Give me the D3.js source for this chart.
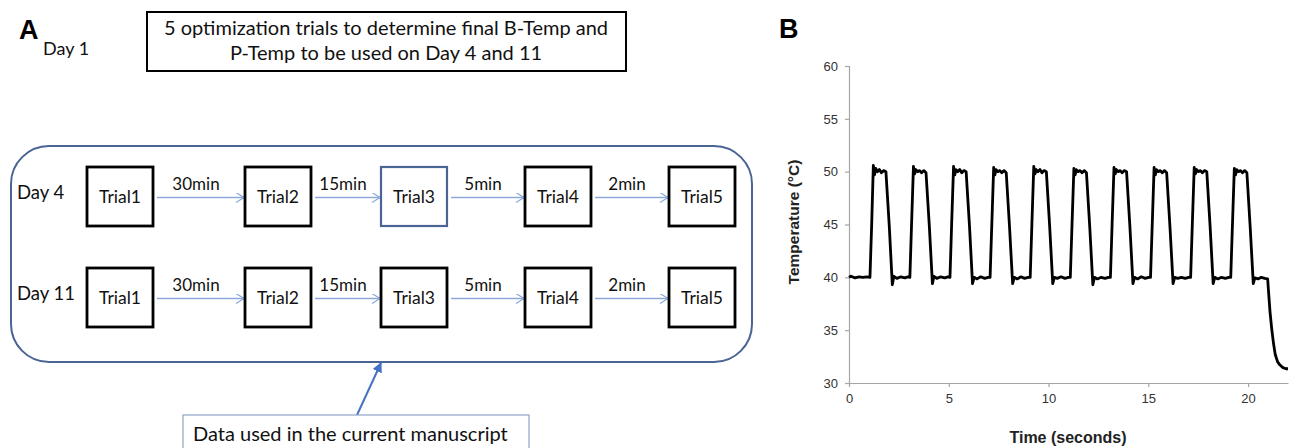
<!DOCTYPE html>
<html>
<head>
<meta charset="utf-8">
<script src="https://cdn.jsdelivr.net/npm/d3@7"></script>
<style>
  body { margin: 0; background: #fff; }
  svg { display: block; }
</style>
</head>
<body>
<div id="chart"></div>
<script>
// ---- data ----
var dayLabels = ["Day 4", "Day 11"];
var trialLabels = ["Trial1", "Trial2", "Trial3", "Trial4", "Trial5"];
var intervalLabels = ["30min", "15min", "5min", "2min"];
var highlighted = ["Day 4|Trial3"];
var headerLines = ["5 optimization trials to determine final B-Temp and", "P-Temp to be used on Day 4 and 11"];
var calloutText = "Data used in the current manuscript";

var yTicks = [30, 35, 40, 45, 50, 55, 60];
var xTicks = [0, 5, 10, 15, 20];

// temperature trace: [seconds, degC]
var tempTrace = [
  [0, 40.0], [0.1, 40.1], [0.3, 39.95], [0.5, 40.05], [0.7, 40.0], [0.9, 40.05],
  [1.05, 40.0], [1.14, 45.2], [1.22, 50.6], [1.28, 49.7], [1.34, 50.3], [1.42, 50.0], [1.52, 50.2], [1.62, 49.9], [1.74, 50.1], [1.85, 50.0],
  [2.02, 44.8], [2.17, 39.3], [2.25, 40.1], [2.4, 39.9], [2.6, 40.05], [2.8, 39.95], [2.95, 40.05],
  [3.05, 40.0], [3.14, 45.3], [3.23, 50.5], [3.29, 49.8], [3.35, 50.2], [3.44, 50.0], [3.54, 50.1], [3.64, 49.9], [3.75, 50.1], [3.86, 49.9],
  [4.03, 44.7], [4.18, 39.4], [4.26, 40.1], [4.4, 39.9], [4.6, 40.05], [4.8, 39.95], [4.96, 40.05],
  [5.06, 40.0], [5.15, 45.4], [5.24, 50.5], [5.3, 49.7], [5.36, 50.2], [5.45, 50.0], [5.55, 50.2], [5.65, 49.9], [5.76, 50.1], [5.87, 50.0],
  [6.04, 44.8], [6.19, 39.4], [6.27, 40.0], [6.42, 39.85], [6.6, 40.05], [6.8, 39.9], [6.97, 40.0],
  [7.07, 40.0], [7.16, 45.2], [7.25, 50.4], [7.31, 49.7], [7.37, 50.2], [7.46, 50.0], [7.56, 50.1], [7.66, 49.9], [7.77, 50.1], [7.88, 49.9],
  [8.05, 44.6], [8.2, 39.4], [8.28, 40.0], [8.43, 39.85], [8.62, 40.05], [8.8, 39.9], [8.98, 40.0],
  [9.08, 40.0], [9.17, 45.3], [9.26, 50.5], [9.32, 49.8], [9.38, 50.2], [9.47, 50.0], [9.57, 50.2], [9.67, 49.9], [9.78, 50.1], [9.89, 50.0],
  [10.06, 44.7], [10.21, 39.4], [10.29, 40.0], [10.44, 39.9], [10.63, 40.05], [10.82, 39.9], [10.99, 40.0],
  [11.09, 40.0], [11.18, 45.2], [11.27, 50.3], [11.33, 49.7], [11.39, 50.2], [11.48, 50.0], [11.58, 50.1], [11.68, 49.9], [11.79, 50.1], [11.9, 49.9],
  [12.07, 44.6], [12.22, 39.3], [12.3, 40.0], [12.45, 39.85], [12.64, 40.0], [12.83, 39.9], [13.0, 40.0],
  [13.1, 40.0], [13.19, 45.3], [13.28, 50.4], [13.34, 49.8], [13.4, 50.2], [13.49, 50.0], [13.59, 50.1], [13.69, 49.9], [13.8, 50.1], [13.91, 50.0],
  [14.08, 44.7], [14.23, 39.4], [14.31, 40.0], [14.46, 39.85], [14.65, 40.05], [14.84, 39.9], [15.01, 40.0],
  [15.11, 40.0], [15.2, 45.2], [15.29, 50.4], [15.35, 49.7], [15.41, 50.2], [15.5, 50.0], [15.6, 50.1], [15.7, 49.9], [15.81, 50.1], [15.92, 49.9],
  [16.09, 44.6], [16.24, 39.4], [16.32, 40.0], [16.47, 39.9], [16.66, 40.0], [16.85, 39.9], [17.02, 40.0],
  [17.12, 40.0], [17.21, 45.3], [17.3, 50.4], [17.36, 49.8], [17.42, 50.2], [17.51, 50.0], [17.61, 50.1], [17.71, 49.9], [17.82, 50.1], [17.93, 50.0],
  [18.1, 44.7], [18.25, 39.4], [18.33, 40.0], [18.48, 39.85], [18.67, 40.0], [18.86, 39.9], [19.03, 40.0],
  [19.13, 40.0], [19.22, 45.2], [19.31, 50.3], [19.37, 49.7], [19.43, 50.2], [19.52, 50.0], [19.62, 50.1], [19.72, 49.9], [19.83, 50.1], [19.94, 49.9],
  [20.11, 44.6], [20.26, 39.4], [20.34, 39.95], [20.5, 39.85], [20.66, 40.0], [20.84, 39.9], [20.98, 39.85],
  [21.03, 38.5], [21.1, 36.7], [21.18, 35.2], [21.27, 33.8], [21.36, 32.7], [21.48, 32.0], [21.6, 31.7], [21.75, 31.45], [21.9, 31.35], [22.0, 31.35]
];

// ---- layout ----
var width = 1298;
var height = 448;
var sansA = "Lato, 'Open Sans', sans-serif";
var sansB = "'Liberation Sans', Arial, sans-serif";
var boxBlue = "#4a6494";
var arrowBlue = "#8eaadb";

var svg = d3.select("#chart")
    .append("svg")
    .attr("width", width)
    .attr("height", height);

var defs = svg.append("defs");
defs.append("marker")
    .attr("id", "openHead")
    .attr("markerUnits", "userSpaceOnUse")
    .attr("markerWidth", 12).attr("markerHeight", 12)
    .attr("refX", 9).attr("refY", 5)
    .attr("orient", "auto")
    .append("path")
    .attr("d", "M1,0 L9,5 L1,10")
    .attr("fill", "none")
    .attr("stroke", arrowBlue)
    .attr("stroke-width", 1.3);
defs.append("marker")
    .attr("id", "solidHead")
    .attr("markerUnits", "userSpaceOnUse")
    .attr("markerWidth", 12).attr("markerHeight", 12)
    .attr("refX", 9).attr("refY", 5)
    .attr("orient", "auto")
    .append("path")
    .attr("d", "M0,0 L10,5 L0,10 Z")
    .attr("fill", "#4472c4");

// ===== panel A =====
var pA = svg.append("g").attr("class", "panelA");

pA.append("text")
    .attr("x", 19).attr("y", 39)
    .attr("font-family", sansB)
    .attr("font-weight", 700)
    .attr("font-size", "27px")
    .text("A");

pA.append("text")
    .attr("x", 43).attr("y", 55)
    .attr("font-family", sansA)
    .attr("font-size", "18px")
    .attr("fill", "#111")
    .text("Day 1");

pA.append("rect")
    .attr("x", 147).attr("y", 12)
    .attr("width", 479).attr("height", 59)
    .attr("fill", "none")
    .attr("stroke", "#000")
    .attr("stroke-width", 2);

pA.selectAll(".header")
    .data(headerLines)
    .enter()
    .append("text")
    .attr("class", "header")
    .attr("x", 386)
    .attr("y", function (d, i) { return 35 + i * 25; })
    .attr("text-anchor", "middle")
    .attr("font-family", sansA)
    .attr("font-size", "20px")
    .attr("fill", "#111")
    .text(function (d) { return d; });

// rounded container
pA.append("rect")
    .attr("x", 11).attr("y", 146)
    .attr("width", 741).attr("height", 216)
    .attr("rx", 38).attr("ry", 38)
    .attr("fill", "none")
    .attr("stroke", boxBlue)
    .attr("stroke-width", 2);

var boxW = 66, boxH = 59;
var xTrial = d3.scaleOrdinal().domain(trialLabels).range([87, 245, 381, 525, 669]);
var yDay = d3.scaleOrdinal().domain(dayLabels).range([167, 268]);

var rows = pA.selectAll(".dayRow")
    .data(dayLabels)
    .enter()
    .append("g")
    .attr("class", "dayRow")
    .attr("transform", function (d) { return "translate(0," + yDay(d) + ")"; });

rows.append("text")
    .attr("x", 17).attr("y", 32)
    .attr("font-family", sansA)
    .attr("font-size", "18.5px")
    .attr("fill", "#111")
    .text(function (d) { return d; });

rows.each(function (day) {
    var row = d3.select(this);

    row.selectAll(".arrow")
        .data(intervalLabels)
        .enter()
        .append("line")
        .attr("class", "arrow")
        .attr("x1", function (d, i) { return xTrial(trialLabels[i]) + boxW + 4; })
        .attr("x2", function (d, i) { return xTrial(trialLabels[i + 1]) - 1; })
        .attr("y1", boxH / 2 + 1)
        .attr("y2", boxH / 2 + 1)
        .attr("stroke", arrowBlue)
        .attr("stroke-width", 1.3)
        .attr("marker-end", "url(#openHead)");

    row.selectAll(".interval")
        .data(intervalLabels)
        .enter()
        .append("text")
        .attr("class", "interval")
        .attr("x", function (d, i) {
            return (xTrial(trialLabels[i]) + boxW + xTrial(trialLabels[i + 1])) / 2 - 3;
        })
        .attr("y", 23)
        .attr("text-anchor", "middle")
        .attr("font-family", sansA)
        .attr("font-size", "17px")
        .attr("fill", "#111")
        .text(function (d) { return d; });

    var trial = row.selectAll(".trial")
        .data(trialLabels)
        .enter()
        .append("g")
        .attr("class", "trial");

    trial.append("rect")
        .attr("x", function (d) { return xTrial(d); })
        .attr("y", 0)
        .attr("width", boxW).attr("height", boxH)
        .attr("fill", "#fff")
        .attr("stroke", function (d) {
            return highlighted.indexOf(day + "|" + d) >= 0 ? boxBlue : "#000";
        })
        .attr("stroke-width", function (d) {
            return highlighted.indexOf(day + "|" + d) >= 0 ? 2.2 : 2.8;
        });

    trial.append("text")
        .attr("x", function (d) { return xTrial(d) + boxW / 2; })
        .attr("y", boxH / 2 + 6)
        .attr("text-anchor", "middle")
        .attr("font-family", sansA)
        .attr("font-size", "17.5px")
        .attr("fill", "#111")
        .text(function (d) { return d; });
});

// callout
pA.append("line")
    .attr("x1", 357).attr("y1", 415)
    .attr("x2", 381).attr("y2", 363)
    .attr("stroke", "#4472c4")
    .attr("stroke-width", 2)
    .attr("marker-end", "url(#solidHead)");

pA.append("rect")
    .attr("x", 183).attr("y", 415)
    .attr("width", 346).attr("height", 44)
    .attr("fill", "#fff")
    .attr("stroke", "#8ea4c8")
    .attr("stroke-width", 1.2);

pA.append("text")
    .attr("x", 193).attr("y", 441)
    .attr("font-family", sansA)
    .attr("font-size", "20px")
    .attr("fill", "#111")
    .text(calloutText);

// ===== panel B =====
var pB = svg.append("g").attr("class", "panelB");

pB.append("text")
    .attr("x", 779).attr("y", 38)
    .attr("font-family", sansB)
    .attr("font-weight", 700)
    .attr("font-size", "27px")
    .text("B");

var x = d3.scaleLinear().domain([0, 22]).range([849, 1288]);
var y = d3.scaleLinear().domain([30, 60]).range([383, 66]);

var xAxis = pB.append("g")
    .attr("transform", "translate(0," + y(30) + ")")
    .call(d3.axisBottom(x).tickValues(xTicks).tickSize(4).tickSizeOuter(0).tickPadding(7));

var yAxis = pB.append("g")
    .attr("transform", "translate(" + x(0) + ",0)")
    .call(d3.axisLeft(y).tickValues(yTicks).tickSize(4).tickPadding(7));

[xAxis, yAxis].forEach(function (a) {
    a.selectAll("path, line").attr("stroke", "#a6a6a6").attr("stroke-width", 1.2);
    a.selectAll("text")
        .attr("font-family", sansB)
        .attr("font-size", "13px")
        .attr("fill", "#333");
});

var line = d3.line()
    .x(function (d) { return x(d[0]); })
    .y(function (d) { return y(d[1]); });

pB.append("path")
    .datum(tempTrace)
    .attr("d", line)
    .attr("fill", "none")
    .attr("stroke", "#000")
    .attr("stroke-width", 2.8)
    .attr("stroke-linejoin", "round");

pB.append("text")
    .attr("x", 1068).attr("y", 443)
    .attr("text-anchor", "middle")
    .attr("font-family", sansB)
    .attr("font-weight", 700)
    .attr("font-size", "16px")
    .attr("fill", "#222")
    .text("Time (seconds)");

pB.append("text")
    .attr("transform", "translate(799,222) rotate(-90)")
    .attr("text-anchor", "middle")
    .attr("font-family", sansB)
    .attr("font-weight", 700)
    .attr("font-size", "15.5px")
    .attr("fill", "#222")
    .text("Temperature (°C)");
</script>
</body>
</html>
